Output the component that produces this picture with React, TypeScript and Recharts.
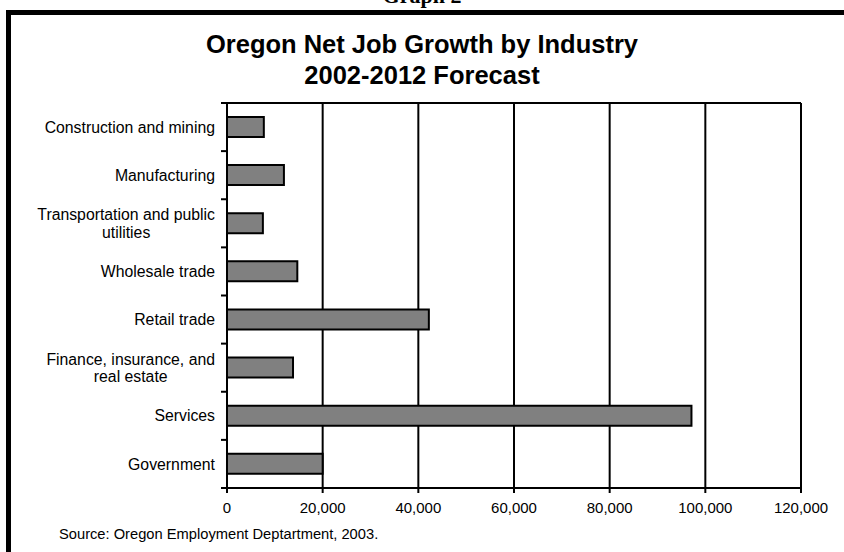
import { BarChart, Bar, XAxis, YAxis, CartesianGrid } from "recharts";

const industries = [
  "Construction and mining",
  "Manufacturing",
  "Transportation and public utilities",
  "Wholesale trade",
  "Retail trade",
  "Finance, insurance, and real estate",
  "Services",
  "Government",
];
const jobGrowth = [7700, 11900, 7500, 14700, 42200, 13800, 97100, 20000];
const xTicks = [0, 20000, 40000, 60000, 80000, 100000, 120000];

const data = industries.map((name, i) => ({ name, value: jobGrowth[i] }));

const W = 844;
const H = 552;
const MARGIN = { top: 103, right: 43, bottom: 34, left: 0 };
const X_AXIS_H = 30;
const BAND = (H - MARGIN.top - MARGIN.bottom - X_AXIS_H) / industries.length;
const FONT = "'Liberation Sans', Arial, sans-serif";
const LABEL_SIZE = 15.8;

let ctx: CanvasRenderingContext2D | null = null;
const measure = (s: string) => {
  if (!ctx) ctx = document.createElement("canvas").getContext("2d");
  if (!ctx) return s.length * 7.8;
  ctx.font = `${LABEL_SIZE}px ${FONT}`;
  return ctx.measureText(s).width;
};

// split long category names over two lines, Excel style
const wrap = (text: string, max = 190) => {
  const words = text.split(" ");
  const lines: string[] = [];
  let cur = "";
  for (const w of words) {
    const next = cur ? cur + " " + w : w;
    if (cur && measure(next) > max) {
      lines.push(cur);
      cur = w;
    } else cur = next;
  }
  if (cur) lines.push(cur);
  return lines;
};

// label + tick marks on the band edges instead of band centre
const CategoryTick = (props: any) => {
  const { x, y, payload, index } = props;
  const lines = wrap(String(payload.value));
  const blockW = Math.max(...lines.map(measure));
  const cx = x - blockW / 2;
  const lineH = 17.5;
  return (
    <g>
      {lines.map((l, i) => (
        <text
          key={i}
          x={cx}
          y={y + (i - (lines.length - 1) / 2) * lineH}
          dy="0.355em"
          textAnchor="middle"
          fontSize={LABEL_SIZE}
          fontFamily={FONT}
          fill="#000"
        >
          {l}
        </text>
      ))}
      <line x1={x + 6} x2={x + 12} y1={y - BAND / 2} y2={y - BAND / 2} stroke="#000" strokeWidth={2} />
      {index === industries.length - 1 && (
        <line x1={x + 6} x2={x + 12} y1={y + BAND / 2} y2={y + BAND / 2} stroke="#000" strokeWidth={2} />
      )}
    </g>
  );
};

export default function App() {
  return (
    <div
      style={{
        position: "absolute",
        left: 0,
        top: 0,
        width: W,
        height: H,
        overflow: "hidden",
        background: "#fff",
      }}
    >
      <div
        style={{
          position: "absolute",
          left: 0,
          width: W,
          top: -17,
          textAlign: "center",
          fontFamily: "'Liberation Serif', serif",
          fontWeight: "bold",
          fontSize: 22,
        }}
      >
        Graph 2
      </div>
      <div
        style={{
          position: "absolute",
          left: 6,
          top: 10,
          width: W,
          height: H,
          borderTop: "5px solid #000",
          borderLeft: "5px solid #000",
        }}
      />
      <div
        style={{
          position: "absolute",
          left: 0,
          width: W,
          top: 29,
          textAlign: "center",
          fontFamily: FONT,
          fontWeight: "bold",
          fontSize: 25.5,
          lineHeight: "31px",
        }}
      >
        Oregon Net Job Growth by Industry
        <br />
        2002-2012 Forecast
      </div>
      <div style={{ position: "absolute", left: 0, top: 0 }}>
        <BarChart
          width={W}
          height={H}
          data={data}
          layout="vertical"
          margin={MARGIN}
          barCategoryGap="29%"
        >
          <CartesianGrid
            stroke="#000"
            strokeWidth={2}
            horizontalCoordinatesGenerator={({ offset }: any) => [offset.top]}
          />
          <XAxis
            type="number"
            domain={[0, 120000]}
            ticks={xTicks}
            interval={0}
            height={X_AXIS_H}
            tickFormatter={(v: number) => v.toLocaleString("en-US")}
            tick={{ fill: "#000", fontSize: 15, fontFamily: FONT }}
            tickSize={5}
            tickMargin={9}
            axisLine={{ stroke: "#000", strokeWidth: 2 }}
            tickLine={{ stroke: "#000", strokeWidth: 2 }}
          />
          <YAxis
            type="category"
            dataKey="name"
            width={227}
            interval={0}
            tickLine={false}
            tickSize={6}
            tickMargin={6}
            tick={<CategoryTick />}
            axisLine={{ stroke: "#000", strokeWidth: 2 }}
          />
          <Bar dataKey="value" fill="#808080" stroke="#000" strokeWidth={2} isAnimationActive={false} />
        </BarChart>
      </div>
      <div
        style={{
          position: "absolute",
          left: 59,
          top: 526,
          fontFamily: FONT,
          fontSize: 14.7,
        }}
      >
        Source: Oregon Employment Deptartment, 2003.
      </div>
    </div>
  );
}
